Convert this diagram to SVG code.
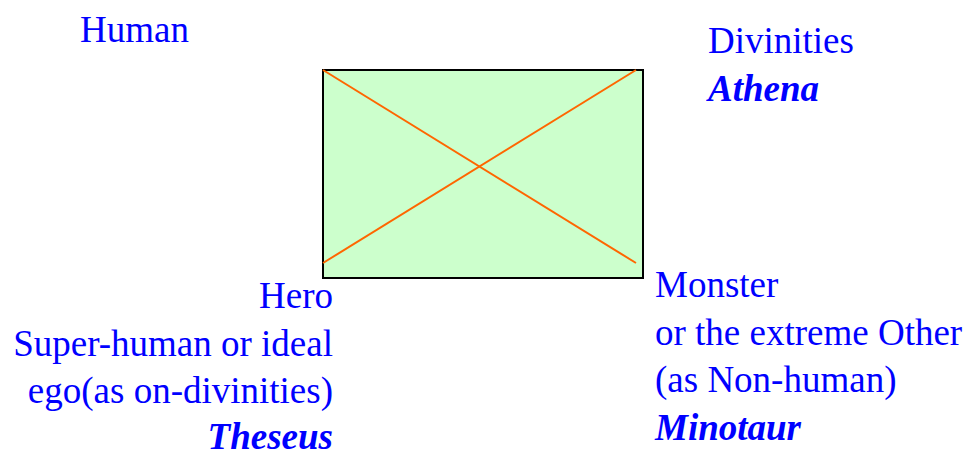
<svg xmlns="http://www.w3.org/2000/svg" width="968" height="455" viewBox="0 0 968 455">
<style>
text{font-family:"Liberation Serif","Times New Roman",serif;font-size:37px;fill:#0000ff}
.b{font-weight:bold;font-style:italic}
.r{text-anchor:end}
.x{stroke:#ff6600;stroke-width:2;fill:none}
</style>
<rect width="968" height="455" fill="#ffffff"/>
<g id="box">
<rect x="323" y="70" width="320" height="208" fill="#ccffcc" stroke="#000000" stroke-width="2"/>
</g>
<g id="connectors">
<line class="x" x1="323" y1="70" x2="636" y2="263"/>
<line class="x" x1="323" y1="263" x2="636" y2="70"/>
</g>
<g id="human"><text x="80" y="42">Human</text></g>
<g id="divinities"><text x="708" y="53">Divinities</text><text x="708" y="101" class="b">Athena</text></g>
<g id="hero">
<text x="333" y="308" class="r">Hero</text>
<text x="333" y="356" class="r">Super-human or ideal</text>
<text x="333" y="403" class="r">ego(as on-divinities)</text>
<text x="333" y="449" class="r b">Theseus</text>
</g>
<g id="monster">
<text x="655" y="297">Monster</text>
<text x="655" y="345">or the extreme Other</text>
<text x="655" y="392">(as Non-human)</text>
<text x="655" y="440" class="b">Minotaur</text>
</g>
</svg>
